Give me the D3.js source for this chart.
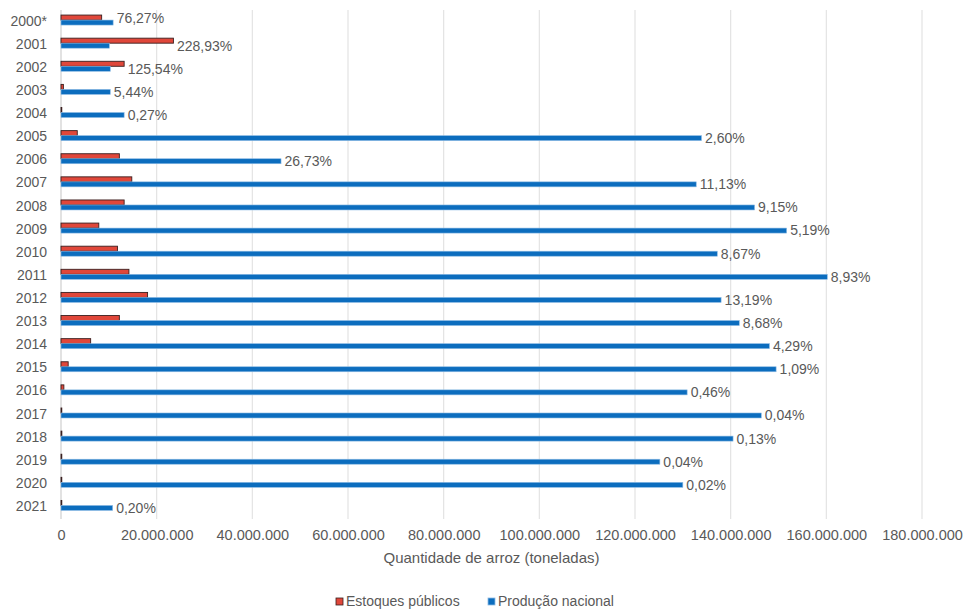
<!DOCTYPE html>
<html>
<head>
<meta charset="utf-8">
<script src="https://cdn.jsdelivr.net/npm/d3@7"></script>
<style>
  html, body { margin: 0; padding: 0; background: #fff; }
  svg { display: block; font-family: "Liberation Sans", Arial, sans-serif; }
</style>
</head>
<body>
<svg id="chart" width="965" height="610"></svg>
<script>
const years = ["2000*","2001","2002","2003","2004","2005","2006","2007","2008","2009","2010",
  "2011","2012","2013","2014","2015","2016","2017","2018","2019","2020","2021"];
const estoques = [8.5e6, 23.5e6, 13.2e6, 0.5e6, 0.1e6, 3.4e6, 12.2e6, 14.8e6, 13.2e6, 7.9e6, 11.8e6,
  14.2e6, 18.1e6, 12.2e6, 6.2e6, 1.5e6, 0.6e6, 0.06e6, 0.18e6, 0.05e6, 0.03e6, 0.02e6];
const producao = [10.9e6, 10.1e6, 10.3e6, 10.3e6, 13.2e6, 133.9e6, 46.0e6, 132.8e6, 145.0e6, 151.7e6, 137.2e6,
  160.2e6, 138.0e6, 141.8e6, 148.1e6, 149.5e6, 130.9e6, 146.4e6, 140.5e6, 125.2e6, 130.0e6, 10.8e6];
const percentLabels = ["76,27%","228,93%","125,54%","5,44%","0,27%","2,60%","26,73%","11,13%","9,15%","5,19%","8,67%",
  "8,93%","13,19%","8,68%","4,29%","1,09%","0,46%","0,04%","0,13%","0,04%","0,02%","0,20%"];
const xTicks = [0, 20e6, 40e6, 60e6, 80e6, 100e6, 120e6, 140e6, 160e6, 180e6];
const seriesNames = ["Estoques públicos", "Produção nacional"];

const rows = years.map((y, i) => ({ year: y, est: estoques[i], prod: producao[i], label: percentLabels[i] }));

const svg = d3.select("#chart");
const textColor = "#595959";
const redFill = "#E0473A", redStroke = "#3a1f1f";
const blueFill = "#0C6DBE", blueStroke = "#8DBBE4";

const x = d3.scaleLinear().domain([0, 180e6]).range([61, 922]);
const y = d3.scaleBand().domain(years).range([8.5, 517]).padding(0);
const barH = 5;
const fmt = d => d3.format(",")(d).replace(/,/g, ".");

// gridlines
svg.append("g").selectAll("line").data(xTicks).join("line")
  .attr("x1", d => x(d)).attr("x2", d => x(d))
  .attr("y1", 10).attr("y2", 519)
  .attr("stroke", d => d === 0 ? "#cfcfcf" : "#e3e3e3").attr("stroke-width", 1.2);

// x tick labels via axis
const xAxis = d3.axisBottom(x).tickValues(xTicks).tickFormat(fmt).tickSize(0).tickPadding(0);
const gx = svg.append("g").attr("transform", "translate(0,530)").call(xAxis);
gx.select(".domain").remove();
gx.selectAll("text").attr("fill", textColor).attr("font-size", "14.5px")
  .attr("font-family", "\"Liberation Sans\", Arial, sans-serif");

// y labels via axis
const yAxis = d3.axisLeft(y).tickSize(0).tickPadding(0);
const gy = svg.append("g").attr("transform", "translate(47,0)").call(yAxis);
gy.select(".domain").remove();
gy.selectAll("text").attr("fill", textColor).attr("font-size", "14px")
  .attr("font-family", "\"Liberation Sans\", Arial, sans-serif")
  .attr("dy", "0.4em");

const cy = d => y(d.year) + y.bandwidth() / 2;

// red bars
svg.append("g").selectAll("rect").data(rows).join("rect")
  .attr("x", x(0)).attr("y", d => cy(d) - barH)
  .attr("width", d => Math.max(x(d.est) - x(0), 0.8)).attr("height", barH)
  .attr("fill", redFill).attr("stroke", redStroke).attr("stroke-width", 0.9);

// blue bars
svg.append("g").selectAll("rect").data(rows).join("rect")
  .attr("x", x(0)).attr("y", d => cy(d))
  .attr("width", d => x(d.prod) - x(0)).attr("height", barH)
  .attr("fill", blueFill).attr("stroke", blueStroke).attr("stroke-width", 0.6);

// percent labels
svg.append("g").selectAll("text").data(rows).join("text")
  .attr("x", d => x(Math.max(d.est, d.prod)) + 3.5)
  .attr("y", (d, i) => i === 0 ? cy(d) - 2 : cy(d) + 2.5)
  .attr("dy", "0.35em")
  .attr("fill", textColor).attr("font-size", "14px")
  .text(d => d.label);

// axis title
svg.append("text").attr("x", (x(0) + x(180e6)) / 2).attr("y", 558).attr("dy", "0.35em")
  .attr("text-anchor", "middle").attr("fill", textColor).attr("font-size", "15px")
  .text("Quantidade de arroz (toneladas)");

// legend
const legend = svg.append("g");
const legendItems = [
  { name: seriesNames[0], fill: redFill, stroke: redStroke, x: 336 },
  { name: seriesNames[1], fill: blueFill, stroke: blueStroke, x: 488 }
];
legendItems.forEach(it => {
  legend.append("rect").attr("x", it.x).attr("y", 598).attr("width", 7).attr("height", 7)
    .attr("fill", it.fill).attr("stroke", it.stroke).attr("stroke-width", 0.8);
  legend.append("text").attr("x", it.x + 10).attr("y", 601.5).attr("dy", "0.35em")
    .attr("fill", textColor).attr("font-size", "14px").text(it.name);
});
</script>
</body>
</html>
